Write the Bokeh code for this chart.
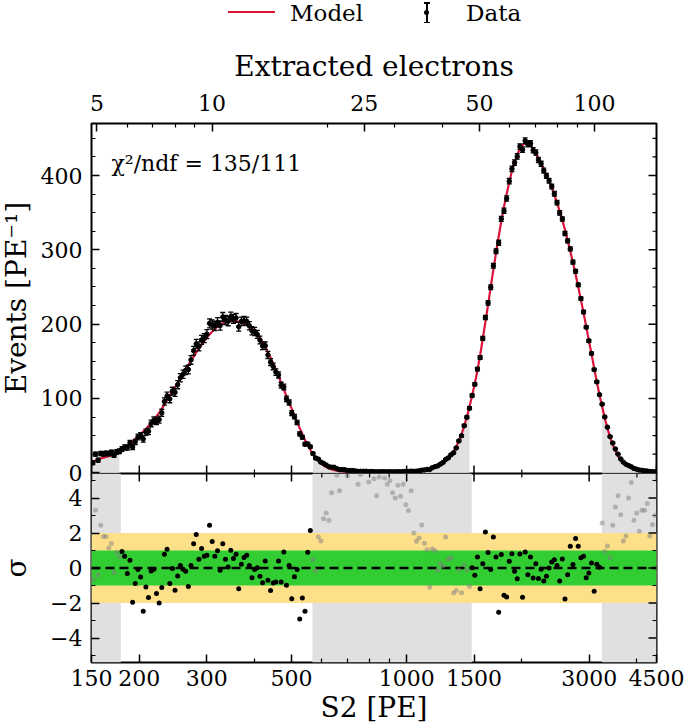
import numpy as np
from bokeh.plotting import figure
from bokeh.models import (Range1d, LogAxis, FixedTicker, NumeralTickFormatter, BoxAnnotation,
                          Span, Label, Div, LogScale)
from bokeh.layouts import column, row
from bokeh.embed import file_html
from bokeh.resources import INLINE

FONT = "DejaVu Serif"

# ---------------- data ----------------
s2_pe = [
    151.2, 153.6, 156.1, 158.6, 161.2, 163.8, 166.4, 169.1, 171.8, 174.6,
    177.4, 180.2, 183.1, 186.1, 189.1, 192.1, 195.2, 198.4, 201.6, 204.8,
    208.1, 211.4, 214.8, 218.3, 221.8, 225.4, 229.0, 232.7, 236.4, 240.3,
    244.1, 248.0, 252.0, 256.1, 260.2, 264.4, 268.7, 273.0, 277.4, 281.8,
    286.4, 291.0, 295.7, 300.4, 305.3, 310.2, 315.2, 320.3, 325.4, 330.6,
    336.0, 341.4, 346.9, 352.5, 358.1, 363.9, 369.8, 375.7, 381.8, 387.9,
    394.1, 400.5, 406.9, 413.5, 420.1, 426.9, 433.8, 440.8, 447.8, 455.1,
    462.4, 469.8, 477.4, 485.1, 492.9, 500.8, 508.9, 517.1, 525.4, 533.8,
    542.4, 551.2, 560.0, 569.1, 578.2, 587.5, 597.0, 606.6, 616.3, 626.3,
    636.3, 646.6, 657.0, 667.6, 678.3, 689.2, 700.3, 711.6, 723.1, 734.7,
    746.5, 758.5, 770.7, 783.2, 795.8, 808.6, 821.6, 834.8, 848.2, 861.9,
    875.8, 889.9, 904.2, 918.7, 933.5, 948.6, 963.8, 979.3, 995.1, 1011.1,
    1027.4, 1043.9, 1060.7, 1077.8, 1095.2, 1112.8, 1130.7, 1148.9, 1167.4, 1186.2,
    1205.3, 1224.7, 1244.4, 1264.4, 1284.8, 1305.5, 1326.5, 1347.8, 1369.5, 1391.6,
    1414.0, 1436.7, 1459.8, 1483.3, 1507.2, 1531.5, 1556.1, 1581.2, 1606.6, 1632.5,
    1658.8, 1685.5, 1712.6, 1740.2, 1768.2, 1796.6, 1825.6, 1854.9, 1884.8, 1915.1,
    1946.0, 1977.3, 2009.1, 2041.4, 2074.3, 2107.7, 2141.6, 2176.1, 2211.1, 2246.7,
    2282.9, 2319.6, 2357.0, 2394.9, 2433.4, 2472.6, 2512.4, 2552.9, 2593.9, 2635.7,
    2678.1, 2721.2, 2765.0, 2809.5, 2854.8, 2900.7, 2947.4, 2994.8, 3043.0, 3092.0,
    3141.8, 3192.4, 3243.8, 3296.0, 3349.0, 3402.9, 3457.7, 3513.4, 3569.9, 3627.4,
    3685.8, 3745.1, 3805.4, 3866.6, 3928.9, 3992.1, 4056.4, 4121.6, 4188.0, 4255.4,
    4323.9, 4393.5, 4464.2]

events = [
    13.4, 25.0, 16.9, 25.9, 25.3, 26.4, 25.6, 27.4, 23.6, 28.2, 29.0,
    32.0, 34.2, 33.9, 40.1, 34.8, 41.6, 48.2, 50.0, 45.4, 54.4,
    55.7, 66.3, 70.7, 69.3, 71.6, 80.6, 95.9, 103.4, 99.4, 109.8,
    108.2, 118.5, 127.8, 132.6, 137.9, 138.9, 151.9, 164.2, 173.4, 170.0,
    178.7, 181.1, 186.5, 201.0, 199.4, 197.6, 202.5, 198.2, 209.5, 205.6,
    203.9, 210.1, 207.2, 208.4, 196.4, 203.7, 204.5, 203.7, 197.8, 191.0,
    190.1, 186.1, 178.6, 170.7, 171.0, 158.6, 149.0, 143.1, 135.5, 131.7,
    117.8, 115.5, 99.4, 94.5, 80.3, 75.5, 67.7, 52.3, 47.8, 38.5,
    38.8, 35.0, 25.8, 19.8, 18.3, 14.3, 12.6, 10.3, 8.0, 7.5,
    7.4, 5.5, 4.2, 4.3, 4.1, 3.0, 3.0, 2.9, 2.4, 1.85,
    1.9, 1.96, 1.98, 1.5, 1.68, 1.45, 1.24, 1.41, 1.49, 1.37,
    1.30, 1.35, 1.24, 1.23, 1.41, 1.37, 1.62, 1.53, 1.64, 2.16,
    1.86, 2.07, 2.58, 3.42, 3.8, 4.49, 4.43, 6.83, 8.23, 9.21,
    11.49, 13.68, 17.88, 19.99, 24.11, 26.85, 33.37, 42.86, 49.84, 63.3,
    74.78, 86.96, 104.0, 119.1, 139.5, 155.0, 180.7, 208.8, 228.6, 249.7,
    278.6, 298.1, 309.5, 341.7, 352.5, 369.1, 392.4, 409.0, 417.3, 425.7,
    439.0, 434.8, 446.9, 442.1, 443.3, 434.0, 430.9, 420.9, 415.8, 406.5,
    399.5, 393.0, 385.1, 375.5, 363.5, 349.8, 341.5, 322.0, 312.0, 301.3,
    283.5, 271.1, 252.9, 234.3, 216.4, 195.9, 177.5, 160.5, 138.8, 122.3,
    105.1, 92.3, 75.1, 61.3, 48.6, 40.0, 32.0, 25.1, 18.6, 14.2,
    11.3, 9.7, 8.0, 5.8, 4.8, 3.66, 3.25, 2.68, 2.28, 1.66,
    1.52, 1.35]

events_err = [
    2.48, 2.58, 2.67, 2.74, 2.79, 2.84, 2.88, 2.92, 2.96, 3.01, 3.07,
    3.16, 3.29, 3.42, 3.55, 3.68, 3.78, 3.89, 4.0, 4.1, 4.2,
    4.3, 4.4, 4.49, 4.61, 4.72, 4.83, 4.95, 5.07, 5.18, 5.29,
    5.36, 5.46, 5.55, 5.63, 5.71, 5.79, 5.86, 5.91, 5.97, 6.01,
    6.06, 6.09, 6.13, 6.15, 6.16, 6.17, 6.17, 6.16, 6.14, 6.11,
    6.08, 6.04, 5.99, 5.94, 5.88, 5.83, 5.76, 5.69, 5.61, 5.53,
    5.43, 5.33, 5.21, 5.08, 4.96, 4.81, 4.67, 4.51, 4.35, 4.18,
    4.0, 3.81, 3.63, 3.44, 3.26, 3.06, 2.86, 2.66, 2.46, 2.24,
    2.04, 1.85, 1.65, 1.46, 1.30, 1.14, 1.0, 0.87, 0.76, 0.67,
    0.59, 0.51, 0.45, 0.41, 0.37, 0.33, 0.30, 0.28, 0.26, 0.24,
    0.23, 0.22, 0.21, 0.20, 0.196, 0.19, 0.187, 0.183, 0.18, 0.179,
    0.177, 0.177, 0.178, 0.183, 0.186, 0.193, 0.203, 0.216, 0.232, 0.252,
    0.278, 0.306, 0.339, 0.376, 0.423, 0.469, 0.52, 0.574, 0.631, 0.692,
    0.757, 0.823, 0.894, 0.97, 1.055, 1.154, 1.27, 1.395, 1.524, 1.662,
    1.80, 1.946, 2.09, 2.22, 2.36, 2.51, 2.66, 2.80, 2.93, 3.06,
    3.17, 3.27, 3.36, 3.45, 3.51, 3.57, 3.62, 3.65, 3.68, 3.69,
    3.70, 3.69, 3.67, 3.64, 3.60, 3.56, 3.50, 3.45, 3.39, 3.33,
    3.27, 3.22, 3.15, 3.09, 3.02, 2.95, 2.88, 2.80, 2.72, 2.63,
    2.54, 2.45, 2.35, 2.25, 2.14, 2.03, 1.92, 1.80, 1.68, 1.55,
    1.43, 1.30, 1.18, 1.05, 0.935, 0.825, 0.721, 0.625, 0.539, 0.477,
    0.417, 0.366, 0.321, 0.281, 0.249, 0.221, 0.198, 0.176, 0.157, 0.142,
    0.130, 0.118]

model = [
    15, 16.5, 18, 19.2, 20.3, 21.3, 22.3, 23.3, 24.3, 25.5, 27,
    29, 32, 35, 38.5, 42, 45, 48.5, 52, 55.5, 59,
    63, 67, 71, 76, 81, 86, 92, 98, 104, 110,
    115, 121, 127, 133, 139, 145, 151, 156, 162, 167,
    172, 177, 182, 186, 190, 193.5, 196.5, 199, 201, 202.5,
    203.5, 204, 204, 203.8, 203.3, 202.5, 201, 199.5, 197, 194,
    190.5, 186, 181, 175, 169, 162, 155, 147, 139, 130,
    121, 112, 103, 94, 86, 77, 68, 60, 52, 44,
    37, 31, 25, 20, 16, 12.5, 9.8, 7.6, 5.9, 4.6,
    3.6, 2.8, 2.2, 1.8, 1.5, 1.25, 1.05, 0.9, 0.8, 0.7,
    0.65, 0.6, 0.55, 0.52, 0.5, 0.48, 0.47, 0.46, 0.45, 0.45,
    0.45, 0.46, 0.47, 0.5, 0.53, 0.58, 0.65, 0.75, 0.88, 1.05,
    1.3, 1.6, 2.0, 2.5, 3.2, 4.0, 5.0, 6.2, 7.6, 9.3,
    11.3, 13.6, 16.3, 19.5, 23.5, 28.5, 35, 43, 52, 63,
    75, 89, 104, 120, 138, 158, 180, 203, 226, 250,
    273, 296, 318, 339, 358, 375, 391, 406, 418, 428,
    436, 441, 443.5, 443.5, 441, 436, 430, 423, 416, 409,
    401, 393, 384, 374, 363, 352, 340, 327, 313, 298,
    283, 267, 250, 233, 215, 197, 178, 160, 141, 122,
    105, 89, 74, 60, 48, 38, 29.5, 22.5, 17, 13.5,
    10.5, 8.2, 6.4, 5.0, 4.0, 3.2, 2.6, 2.1, 1.7, 1.4,
    1.2, 1.0]

residual_sigma = [
    -0.65, 3.3, -0.4, 2.45, 1.8, 1.8, 1.15, 1.4, -0.25, 0.9, 0.65,
    0.95, 0.67, -0.32, 0.44, -1.95, -0.89, -0.09, -0.51, -2.47, -1.09,
    -1.69, -0.17, -0.07, -1.46, -2.0, -1.12, 0.78, 1.07, -0.89, -0.03,
    -1.27, -0.46, 0.15, -0.07, -0.19, -1.05, 0.15, 1.39, 1.91, 0.5,
    1.11, 0.67, 0.73, 2.44, 1.52, 0.67, 0.98, -0.13, 1.39, 0.5,
    0.06, 1.01, 0.54, 0.78, -1.18, 0.21, 0.6, 0.73, 0.15, -0.55,
    -0.08, 0.02, -0.47, -0.84, 0.4, -0.7, -1.29, -0.86, -0.8, 0.4,
    -0.8, 0.92, -0.99, 0.14, -1.75, -0.5, -0.09, -2.91, -1.71, -2.47,
    0.9, 2.14, 0.48, -0.16, 1.77, 1.55, 2.82, 3.14, 2.73, 4.3,
    6.5, 5.3, 4.42, 6.0, 7.0, 5.26, 6.5, 7.0, 6.0, 4.78,
    5.35, 6.2, 6.8, 4.92, 6.0, 5.1, 4.13, 5.2, 5.8, 5.15,
    4.78, 5.0, 4.3, 4.0, 4.73, 4.1, 4.78, 3.62, 3.28, 4.42,
    2.0, 1.53, 1.71, 2.46, 1.42, 1.05, -1.1, 1.1, 1.0, -0.13,
    0.25, 0.1, 1.77, 0.5, 0.58, -1.43, -1.28, -0.1, -1.42, 0.18,
    -0.12, -1.05, 0.02, -0.42, 0.63, -1.18, 0.25, 2.06, 0.88, -0.09,
    1.77, 0.63, -2.53, 0.77, -1.56, -1.66, 0.38, 0.82, -0.19, -0.61,
    0.8, -1.67, 0.92, -0.38, 0.63, -0.57, 0.25, -0.6, -0.07, -0.74,
    -0.47, 0.0, 0.34, 0.47, 0.15, -0.74, 0.52, -1.77, -0.38, 1.25,
    0.2, 1.68, 1.24, 0.59, 0.67, -0.55, -0.28, 0.28, -1.33, 0.21,
    0.05, 2.57, 0.95, 1.26, 0.59, 2.44, 3.49, 4.13, 3.05, 1.55,
    1.83, 4.0, 4.88, 2.73, 3.14, 2.1, 3.3, 3.3, 3.68, 1.83,
    2.48, 3.0]

# fit windows [PE] (outside them the bins are excluded from the fit)
fit_lo = [179, 1480]
fit_hi = [567, 3240]
s2_min, s2_max = 150, 4500
pe_per_electron = 31.0

x_ticks = [150, 200, 300, 500, 1000, 1500, 3000, 4500]
x_minor = [400, 600, 700, 800, 900, 2000, 4000]
ne_ticks = [5, 10, 25, 50, 100]
ne_minor = [6, 7, 8, 9, 20, 30, 40, 60, 70, 80, 90]
ev_ticks = [0, 100, 200, 300, 400]
ev_minor = [25, 50, 75, 125, 150, 175, 225, 250, 275, 325, 350, 375, 425, 450]
sig_ticks = [-4, -2, 0, 2, 4]
sig_minor = [-5, -3, -1, 1, 3, 5]
chi2_text = "\u03c7\u00b2/ndf = 135/111"
ylabel_top = "Events [PE\u207b\u00b9]"
ylabel_bot = "\u03c3"

# ---------------- derived arrays ----------------
x = np.array(s2_pe)
d = np.array(events)
e = np.array(events_err)
m = np.array(model)
r = np.array(residual_sigma)
in_fit = np.zeros(len(x), dtype=bool)
for lo, hi in zip(fit_lo, fit_hi):
    in_fit |= (x > lo) & (x < hi)
excl = [(s2_min, fit_lo[0]), (fit_hi[0], fit_lo[1]), (fit_hi[1], s2_max)]

RED = "#DC143C"
GREY = "#E0E0E0"
FW = 565               # frame width  [px]
TOP_FH = 350           # frame heights [px]
BOT_FH = 189
TOP_BORDER = 93
OVERLAP = 14           # room below the top frame for its "0" label (overlaps the lower panel)
LAB_W = 36             # width of the y-title strip
MAJ, MIN = 8, 4        # tick lengths [px]


def style_axis(ax):
    ax.axis_line_color = None
    ax.major_tick_in = MAJ
    ax.major_tick_out = 0
    ax.minor_tick_in = MIN
    ax.minor_tick_out = 0
    ax.major_tick_line_color = "black"
    ax.minor_tick_line_color = "black"
    ax.major_tick_line_width = 1.5
    ax.minor_tick_line_width = 1.2
    ax.major_label_text_font = FONT
    ax.major_label_text_font_size = "22px"
    ax.major_label_text_color = "black"
    ax.axis_label_text_font = FONT
    ax.axis_label_text_font_size = "28px"
    ax.axis_label_text_font_style = "normal"
    ax.axis_label_text_color = "black"


def frame_common(p):
    p.outline_line_color = "black"
    p.outline_line_width = 2
    p.xgrid.visible = False
    p.ygrid.visible = False
    p.background_fill_color = "white"
    p.border_fill_color = "white"


def inner_xticks(p, yr, fh, side):
    """tick marks (no labels) on the top or bottom edge of a frame"""
    span = yr[1] - yr[0]
    for ticks, L, w in ((x_ticks, MAJ, 1.5), (x_minor, MIN, 1.2)):
        t = np.array(ticks, dtype=float)
        if side == "bottom":
            y0, y1 = yr[0], yr[0] + L * span / fh
        else:
            y0, y1 = yr[1], yr[1] - L * span / fh
        p.segment(x0=t, y0=np.full(len(t), y0), x1=t, y1=np.full(len(t), y1),
                  line_color="black", line_width=w)


def inner_right_yticks(p, major, minor):
    """tick marks (no labels) on the right edge of a frame (log x axis)"""
    dec = np.log10(s2_max / s2_min) / FW
    for ticks, L, w in ((major, MAJ, 1.5), (minor, MIN, 1.2)):
        t = np.array(ticks, dtype=float)
        x1 = s2_max / 10 ** (L * dec)
        p.segment(x0=np.full(len(t), s2_max), y0=t, x1=np.full(len(t), x1), y1=t,
                  line_color="black", line_width=w)


def ytitle(text, height, center_y):
    """vertical axis title (reads bottom to top), baseline at x = 27 px"""
    html = (f'<div style="position:relative;width:{LAB_W}px;height:{height}px;">'
            f'<div style="position:absolute;left:-132.7px;top:{center_y - 14}px;width:300px;'
            f'height:28px;text-align:center;transform:rotate(-90deg);white-space:nowrap;'
            f"font-family:'{FONT}';font-size:28px;line-height:28px;color:#000;\">{text}</div></div>")
    return Div(text=html, width=LAB_W, height=height, margin=(0, 0, 0, 0))


# ---------------- top panel ----------------
top_yr = (-1, 470)
top = figure(x_axis_type="log", x_axis_location=None, x_range=Range1d(s2_min, s2_max),
             y_range=Range1d(*top_yr), frame_width=FW, frame_height=TOP_FH,
             min_border_left=91 - LAB_W, min_border_right=29, min_border_top=TOP_BORDER,
             min_border_bottom=OVERLAP, toolbar_location=None, output_backend="svg", title=None)
frame_common(top)

top.yaxis.ticker = FixedTicker(ticks=ev_ticks, minor_ticks=ev_minor)
style_axis(top.yaxis[0])
top.yaxis.major_label_standoff = 9

top.extra_x_ranges = {"ne": Range1d(s2_min / pe_per_electron, s2_max / pe_per_electron)}
top.extra_x_scales = {"ne": LogScale()}
tax = LogAxis(x_range_name="ne", ticker=FixedTicker(ticks=ne_ticks, minor_ticks=ne_minor),
              formatter=NumeralTickFormatter(format="0"), axis_label="Extracted electrons")
style_axis(tax)
tax.major_label_standoff = 13
tax.axis_label_standoff = 9
top.add_layout(tax, "above")

inner_xticks(top, top_yr, TOP_FH, "bottom")
inner_right_yticks(top, ev_ticks, ev_minor)

for lo, hi in excl:
    sel = (x >= lo) & (x <= hi)
    top.varea(x=x[sel], y1=np.zeros(sel.sum()), y2=m[sel], fill_color=GREY)

top.line(x, m, line_color=RED, line_width=2.2)
top.segment(x0=x, y0=d - e, x1=x, y1=d + e, line_color="black", line_width=1.3)
top.scatter(x, d + e, marker="dash", size=5, line_color="black", line_width=1.3)
top.scatter(x, d - e, marker="dash", size=5, line_color="black", line_width=1.3)
top.scatter(x, d, marker="circle", size=4.5, fill_color="black", line_color="black")

top.add_layout(Label(x=20, y=310, x_units="screen", y_units="screen", text=chi2_text,
                     text_font=FONT, text_font_size="22px", text_color="black",
                     text_baseline="alphabetic"))

# ---------------- residual panel ----------------
bot_yr = (-5.4, 5.4)
bot = figure(x_axis_type="log", x_range=top.x_range, y_range=Range1d(*bot_yr),
             frame_width=FW, frame_height=BOT_FH, min_border_left=91 - LAB_W,
             min_border_right=29, min_border_top=0, min_border_bottom=0,
             toolbar_location=None, output_backend="svg", title=None)
frame_common(bot)
bot.border_fill_alpha = 0.0

bot.xaxis.ticker = FixedTicker(ticks=x_ticks, minor_ticks=x_minor)
bot.xaxis.formatter = NumeralTickFormatter(format="0")
style_axis(bot.xaxis[0])
bot.xaxis.axis_label = "S2 [PE]"
bot.xaxis.major_label_standoff = 7
bot.xaxis.axis_label_standoff = 2

bot.yaxis.ticker = FixedTicker(ticks=sig_ticks, minor_ticks=sig_minor)
style_axis(bot.yaxis[0])
bot.yaxis.major_label_standoff = 9

inner_xticks(bot, bot_yr, BOT_FH, "top")
inner_right_yticks(bot, sig_ticks, sig_minor)

for lo, hi in excl:
    bot.add_layout(BoxAnnotation(left=lo, right=hi, fill_color=GREY, fill_alpha=1.0,
                                 line_color=None, level="underlay"))
bot.add_layout(BoxAnnotation(bottom=-2, top=2, fill_color="#FEE08A", fill_alpha=1.0,
                             line_color=None, level="underlay"))
bot.add_layout(BoxAnnotation(bottom=-1, top=1, fill_color="#32CD32", fill_alpha=1.0,
                             line_color=None, level="underlay"))
bot.add_layout(Span(location=0, dimension="width", line_color="black", line_dash="9 5",
                    line_width=2.5, level="underlay"))

bot.scatter(x[~in_fit], r[~in_fit], size=5, fill_color="gray", line_color=None, alpha=0.5)
bot.scatter(x[in_fit], r[in_fit], size=5, fill_color="black", line_color=None)

# ---------------- legend (above the plot) ----------------
legend_html = f"""
<div style="position:relative;width:685px;height:30px;font-family:'{FONT}';font-size:23px;color:#000;">
  <div style="position:absolute;left:228px;top:11px;width:47px;height:0;border-top:2.5px solid {RED};"></div>
  <div style="position:absolute;left:290px;top:-1px;line-height:28px;white-space:nowrap;">Model</div>
  <div style="position:absolute;left:426px;top:2px;width:1.5px;height:21px;background:#000;"></div>
  <div style="position:absolute;left:424px;top:2px;width:5.5px;height:1.5px;background:#000;"></div>
  <div style="position:absolute;left:424px;top:21.5px;width:5.5px;height:1.5px;background:#000;"></div>
  <div style="position:absolute;left:424.3px;top:10px;width:5px;height:5px;border-radius:50%;background:#000;"></div>
  <div style="position:absolute;left:466px;top:-1px;line-height:28px;white-space:nowrap;">Data</div>
</div>
"""
legend_div = Div(text=legend_html, width=685, height=30, margin=(0, 0, 0, 0))

top_row = row(ytitle(ylabel_top, TOP_BORDER + TOP_FH, TOP_BORDER + TOP_FH / 2), top, spacing=0)
bot_row = row(ytitle(ylabel_bot, BOT_FH, BOT_FH / 2), bot, spacing=0,
              margin=(-OVERLAP, 0, 0, 0))
layout = column(legend_div, top_row, bot_row, spacing=0)
open("out.html", "w").write(file_html(layout, INLINE))
